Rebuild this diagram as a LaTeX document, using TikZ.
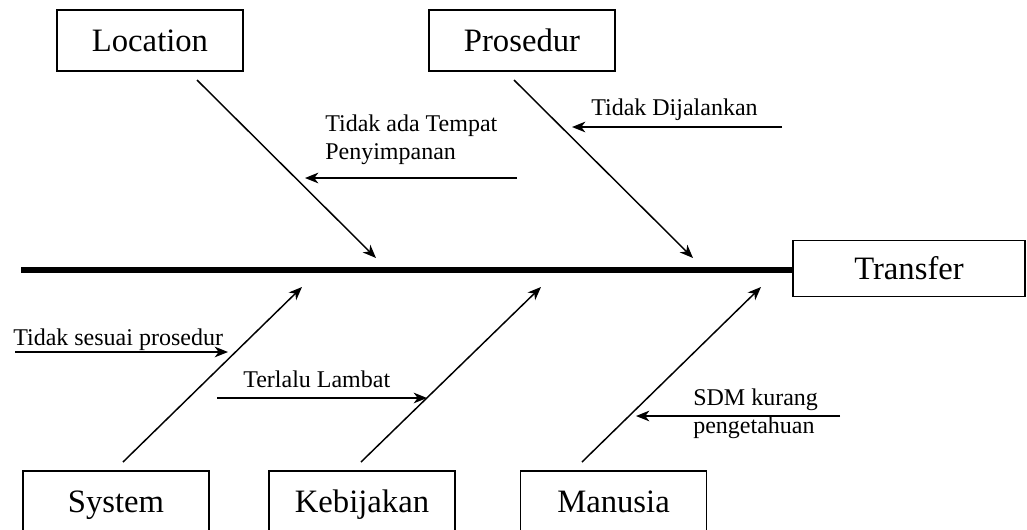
\documentclass[tikz,border=0pt]{standalone}
\usepackage{fontspec}
\setmainfont{Liberation Serif}
\usetikzlibrary{arrows.meta,positioning}

\begin{document}
\begin{tikzpicture}[x=0.75pt,y=-0.75pt,>={Stealth[length=10pt,width=8pt,inset=3pt]},
    cat/.style={draw,line width=1.1pt,minimum width=139.5pt,minimum height=45.75pt,inner sep=0pt,
        text height=22pt,text depth=4.9pt,font=\fontsize{24.5}{28}\selectfont},
    cause/.style={font=\fontsize{18}{20.6}\selectfont,align=left,inner sep=0pt,anchor=base west},
    bone/.style={line width=1.1pt,->}]

                \useasboundingbox (0,0) rectangle (1027,529);

                % spine and head
                \node[cat,minimum width=174pt,minimum height=42pt] (head) at (909,268.5) {Transfer};
                \coordinate (tail) at (21,270);
                \draw[line width=4.5pt] (tail) -- (head.west |- tail);

                % top categories
                \node[cat] (loc) at (150,40.5) {Location};
                \node[cat] (pro) at (522,40.5) {Prosedur};
                \coordinate (loc1) at (197,80);  \coordinate (loc2) at (376,258);
                \coordinate (pro1) at (514,80);  \coordinate (pro2) at (693,258);
                \draw[bone] (loc1) -- (loc2);
                \draw[bone] (pro1) -- (pro2);

                % bottom categories
                \node[cat] (sys) at (116,501.5) {System};
                \node[cat] (keb) at (362,501.5) {Kebijakan};
                \node[cat] (man) at (613.5,501.5) {Manusia};
                \coordinate (sys1) at (123,462); \coordinate (sys2) at (302,287);
                \coordinate (keb1) at (361,462); \coordinate (keb2) at (541,287);
                \coordinate (man1) at (582,462); \coordinate (man2) at (761,287);
                \draw[bone] (sys1) -- (sys2);
                \draw[bone] (keb1) -- (keb2);
                \draw[bone] (man1) -- (man2);

                % causes
                \coordinate (c1a) at (517,178); \coordinate (c1b) at (305,178);
                \draw[bone] (c1a) -- (c1b);
                \node[cause] (tempat) at (325,159) {Tidak ada Tempat\\Penyimpanan};

                \coordinate (c2a) at (782,127); \coordinate (c2b) at (572,127);
                \draw[bone] (c2a) -- (c2b);
                \node[cause] (jalan) at (591,115) {Tidak Dijalankan};

                \coordinate (c3a) at (15,352); \coordinate (c3b) at (228,352);
                \draw[bone] (c3a) -- (c3b);
                \node[cause] (sesuai) at (13,345) {Tidak sesuai prosedur};

                \coordinate (c4a) at (217,398); \coordinate (c4b) at (427,398);
                \draw[bone] (c4a) -- (c4b);
                \node[cause] (lambat) at (243,387) {Terlalu Lambat};

                \coordinate (c5a) at (840,416); \coordinate (c5b) at (636,416);
                \draw[bone] (c5a) -- (c5b);
                \node[cause] (sdm) at (693,433) {SDM kurang\\pengetahuan};

            \end{tikzpicture}
\end{document}
